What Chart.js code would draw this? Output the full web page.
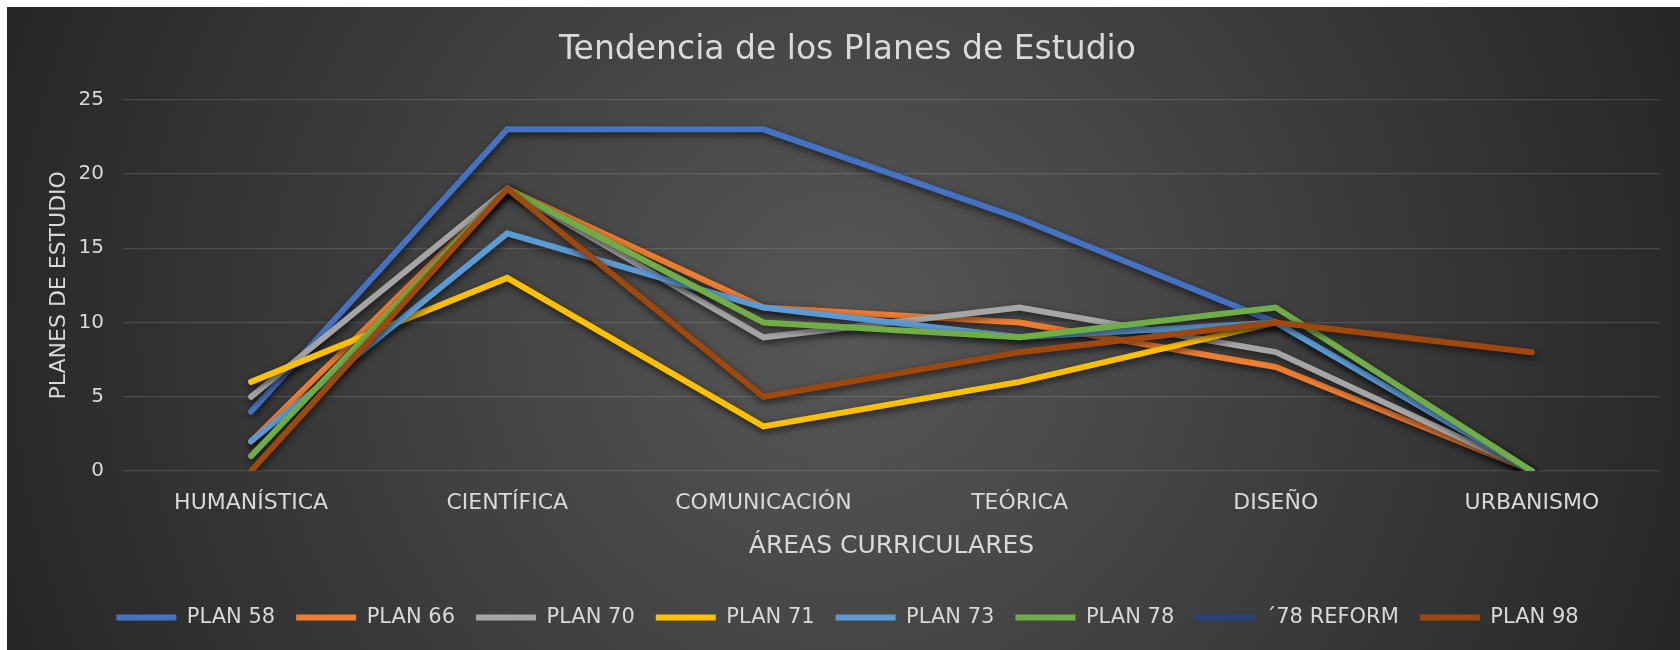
<!DOCTYPE html>
<html>
<head>
<meta charset="utf-8">
<script src="https://cdn.jsdelivr.net/npm/chart.js@4.4.1/dist/chart.umd.min.js"></script>
<style>
  html, body { margin: 0; padding: 0; background: #ffffff; }
  #wrap {
    position: absolute; left: 7px; top: 7px; width: 1673px; height: 643px;
    background: radial-gradient(circle farthest-corner at 50% 50%, #575757 0%, #262626 100%);
  }
</style>
</head>
<body>
<div id="wrap"><canvas id="grafico"></canvas></div>
<script>
// Datos del gráfico
const areas = ['HUMANÍSTICA', 'CIENTÍFICA', 'COMUNICACIÓN', 'TEÓRICA', 'DISEÑO', 'URBANISMO'];
const plan58 = [4, 23, 23, 17, 10, 0];
const plan66 = [2, 19, 11, 10, 7, 0];
const plan70 = [5, 19, 9, 11, 8, 0];
const plan71 = [6, 13, 3, 6, 10, null];
const plan73 = [2, 16, 11, 9, 10, 0];
const plan78 = [1, 19, 10, 9, 11, 0];
const reforma78 = [null, null, null, null, null, null];
const plan98 = [0, 19, 5, 8, 10, 8];
const yTicks = [0, 5, 10, 15, 20, 25];

const series = [
  { label: 'PLAN 58', data: plan58, color: '#4472C4' },
  { label: 'PLAN 66', data: plan66, color: '#ED7D31' },
  { label: 'PLAN 70', data: plan70, color: '#A5A5A5' },
  { label: 'PLAN 71', data: plan71, color: '#FFC000' },
  { label: 'PLAN 73', data: plan73, color: '#5B9BD5' },
  { label: 'PLAN 78', data: plan78, color: '#70AD47' },
  { label: '´78 REFORM', data: reforma78, color: '#264478' },
  { label: 'PLAN 98', data: plan98, color: '#9E480E' }
];

const txt = '#d9d9d9';
const fuente = 'DejaVu Sans';

// sombra de las líneas, como en Excel
const sombra = {
  id: 'sombra',
  beforeDatasetDraw(chart) {
    const ctx = chart.ctx;
    ctx.save();
    ctx.shadowColor = 'rgba(0,0,0,0.65)';
    ctx.shadowBlur = 7;
    ctx.shadowOffsetX = 1;
    ctx.shadowOffsetY = 3;
  },
  afterDatasetDraw(chart) {
    chart.ctx.restore();
  }
};

new Chart(document.getElementById('grafico').getContext('2d'), {
  type: 'line',
  data: {
    labels: areas,
    datasets: series.map((s, i) => ({
      label: s.label,
      data: s.data,
      borderColor: s.color,
      backgroundColor: s.color,
      borderWidth: 6,
      borderCapStyle: 'round',
      pointRadius: 0,
      fill: false,
      tension: 0,
      order: series.length - i // las últimas series encima
    }))
  },
  options: {
    responsive: true,
    maintainAspectRatio: false,
    animation: false,
    layout: { padding: { left: 28, right: 20, top: 0, bottom: 12 } },
    plugins: {
      title: {
        display: true,
        text: 'Tendencia de los Planes de Estudio',
        color: txt,
        font: { family: fuente, size: 33, weight: 'normal' },
        padding: { top: 24, bottom: 29 }
      },
      legend: {
        position: 'bottom',
        labels: {
          color: txt,
          font: { family: fuente, size: 21 },
          usePointStyle: true,
          pointStyle: 'line',
          pointStyleWidth: 60,
          padding: 21,
          sort: (a, b) => a.datasetIndex - b.datasetIndex
        }
      },
      tooltip: { enabled: false }
    },
    scales: {
      x: {
        offset: true,
        grid: { display: false, drawTicks: false },
        border: { display: false },
        ticks: { color: txt, font: { family: fuente, size: 22 }, padding: 19, maxRotation: 0 },
        title: {
          display: true,
          text: 'ÁREAS CURRICULARES',
          color: txt,
          font: { family: fuente, size: 25 },
          padding: { top: 0, bottom: 25 }
        },
        afterFit(scale) { scale.height = 115; }
      },
      y: {
        min: 0,
        max: 25,
        afterBuildTicks(scale) { scale.ticks = yTicks.map(v => ({ value: v })); },
        grid: { color: 'rgba(217,217,217,0.16)', lineWidth: 1.3, drawTicks: false },
        border: { display: false },
        ticks: { color: txt, font: { family: fuente, size: 20 }, padding: 19 },
        title: {
          display: true,
          text: 'PLANES DE ESTUDIO',
          color: txt,
          font: { family: fuente, size: 22 },
          padding: { top: 11, bottom: 0 }
        },
        afterFit(scale) { scale.width = 88; }
      }
    }
  },
  plugins: [sombra]
});
</script>
</body>
</html>
